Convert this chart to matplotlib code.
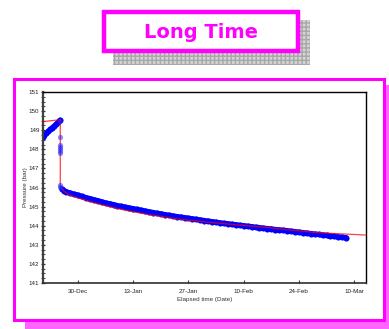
import datetime as dt
import matplotlib
matplotlib.use("Agg")
import matplotlib.pyplot as plt
import matplotlib.dates as mdates
from matplotlib.patches import Rectangle
from matplotlib.ticker import MultipleLocator

# ---------------- data (days relative to 30-Dec-2014, pressure in bar) ----------------
base = dt.datetime(2014, 12, 30)

buildup_days = [-8.9, -8.5, -8.0, -7.5, -7.0, -6.5, -6.0, -5.5, -5.0, -4.6]
buildup_p = [148.65, 148.74, 148.84, 148.94, 149.04, 149.13, 149.22, 149.32, 149.42, 149.52]

drop_days = [-4.5, -4.5, -4.5, -4.5, -4.5, -4.5, -4.5, -4.5, -4.45, -4.4]
drop_p = [149.50, 148.63, 148.22, 148.10, 148.00, 147.90, 147.80, 146.12, 146.05, 146.00]

draw_days = [-4.0, -3.5, -3, -2, -1, 0, 1, 2, 3, 4, 5, 6, 7, 8, 9, 10, 11, 12, 13, 14, 15,
             16, 17, 18, 19, 20, 21, 22, 23, 24, 25, 26, 27, 28, 29, 30, 31, 32, 33, 34,
             35, 36, 37, 38, 39, 40, 41, 42, 43, 44, 45, 46, 47, 48, 49, 50, 51, 52, 53,
             54, 55, 56, 57, 58, 59, 60, 61, 62, 63, 64, 65, 66, 67, 68]
draw_p = [145.90, 145.83, 145.78, 145.71, 145.65, 145.60, 145.53, 145.47, 145.42, 145.36,
          145.31, 145.25, 145.19, 145.15, 145.10, 145.05, 145.01, 144.97, 144.93, 144.89,
          144.85, 144.81, 144.77, 144.73, 144.69, 144.65, 144.62, 144.58, 144.55, 144.51,
          144.48, 144.45, 144.42, 144.39, 144.36, 144.33, 144.30, 144.27, 144.24, 144.21,
          144.18, 144.15, 144.12, 144.10, 144.07, 144.05, 144.02, 144.00, 143.97, 143.95,
          143.92, 143.90, 143.87, 143.85, 143.83, 143.80, 143.78, 143.76, 143.74, 143.71,
          143.69, 143.66, 143.64, 143.61, 143.59, 143.56, 143.54, 143.51, 143.49, 143.46,
          143.44, 143.42, 143.39, 143.37]

model_days = [-8.9, -4.5, -4.5, -4.0, -3.5, -3, -2, -1, 0, 1, 2, 3, 4, 5, 6, 7, 8, 9, 10,
              11, 12, 14, 16, 18, 20, 22, 24, 27, 30, 33, 36, 40, 44, 48, 52, 56, 60, 64,
              68, 73]
model_p = [149.45, 149.55, 146.05, 145.92, 145.80, 145.72, 145.60, 145.52, 145.45, 145.39,
           145.33, 145.27, 145.21, 145.16, 145.10, 145.05, 145.00, 144.95, 144.90, 144.85,
           144.81, 144.73, 144.65, 144.58, 144.52, 144.46, 144.39, 144.31, 144.25, 144.18,
           144.13, 144.05, 143.98, 143.91, 143.81, 143.73, 143.65, 143.60, 143.56, 143.51]

tick_days = [0, 14, 28, 42, 56, 70]
x_limits_days = [-8.88, 73.0]
y_limits = [141, 151]

title_text = "Long Time"
x_label = "Elapsed time (Date)"
y_label = "Pressure (bar)"


def to_dates(days):
    return [base + dt.timedelta(days=float(d)) for d in days]


# ---------------- figure ----------------
W, H = 389, 329
fig = plt.figure(figsize=(W / 100, H / 100), dpi=100)

bg = fig.add_axes([0, 0, 1, 1], zorder=0)
bg.set_xlim(0, W)
bg.set_ylim(H, 0)
bg.axis("off")

# title box with gridded grey shadow
bg.add_patch(Rectangle((113, 20), 197, 45, facecolor="#d4d4d4", edgecolor="#a8a8a8",
                       hatch="++++", linewidth=0))
bg.add_patch(Rectangle((104.5, 11.5), 194, 39, facecolor="white", edgecolor="#ff00ff",
                       linewidth=3.2))
bg.text(201.5, 32, title_text, color="#ff00ff", fontsize=14, fontweight="bold",
        family="DejaVu Sans", ha="center", va="center")

# outer frame with light magenta shadow
bg.add_patch(Rectangle((25, 85), 366, 245, facecolor="#ff66ff", edgecolor="none"))
bg.add_patch(Rectangle((14.5, 78.5), 370, 241.5, facecolor="white", edgecolor="#ff00ff",
                       linewidth=2.2))

# main axes
ax = fig.add_axes([43 / W, 1 - 283 / H, 323 / W, 191 / H], zorder=2)
ax.set_facecolor("white")

band = dict(marker="o", ms=4.4, mew=0, color="#0000ff", lw=3.8,
            solid_capstyle="round", zorder=2)
ax.plot(to_dates(buildup_days), buildup_p, **band)
ax.plot(to_dates(draw_days), draw_p, **band)
ax.plot(to_dates(model_days), model_p, "-", color="#ff0000", lw=0.9, alpha=0.75, zorder=3)
ax.plot(to_dates(drop_days), drop_p, "o", ms=3.8, mew=0, color="#2020ff", alpha=0.5,
        zorder=4)

ax.set_xlim(to_dates(x_limits_days))
ax.set_ylim(*y_limits)
ax.set_xticks(to_dates(tick_days))
ax.xaxis.set_major_formatter(mdates.DateFormatter("%d-%b"))
ax.yaxis.set_major_locator(MultipleLocator(1))
ax.yaxis.set_minor_locator(MultipleLocator(0.25))

lbl_font = dict(family="Liberation Sans", fontsize=4.5, color="#333333")
for t in ax.get_xticklabels() + ax.get_yticklabels():
    t.set_family("Liberation Sans")
    t.set_fontsize(4.5)
    t.set_color("#222222")

ax.tick_params(axis="x", which="major", direction="in", length=2, width=0.8,
               color="#333333", pad=4, labelsize=4.5)
ax.tick_params(axis="y", which="major", direction="inout", length=3.5, width=0.9,
               color="#333333", pad=0.8, labelsize=4.5)
ax.tick_params(axis="y", which="minor", direction="inout", length=2.2, width=0.8,
               color="#555555")

ax.set_xlabel(x_label, **lbl_font)
ax.set_ylabel(y_label, **lbl_font)
ax.xaxis.set_label_coords(0.5, -0.073)
ax.yaxis.set_label_coords(-0.046, 0.5)

ax.spines["left"].set_linewidth(1.6)
ax.spines["left"].set_color("#404040")
ax.spines["bottom"].set_linewidth(1.2)
ax.spines["bottom"].set_color("#303030")
ax.spines["top"].set_linewidth(1.0)
ax.spines["top"].set_color("black")
ax.spines["right"].set_linewidth(1.0)
ax.spines["right"].set_color("black")

fig.savefig("out.png", dpi=100)
